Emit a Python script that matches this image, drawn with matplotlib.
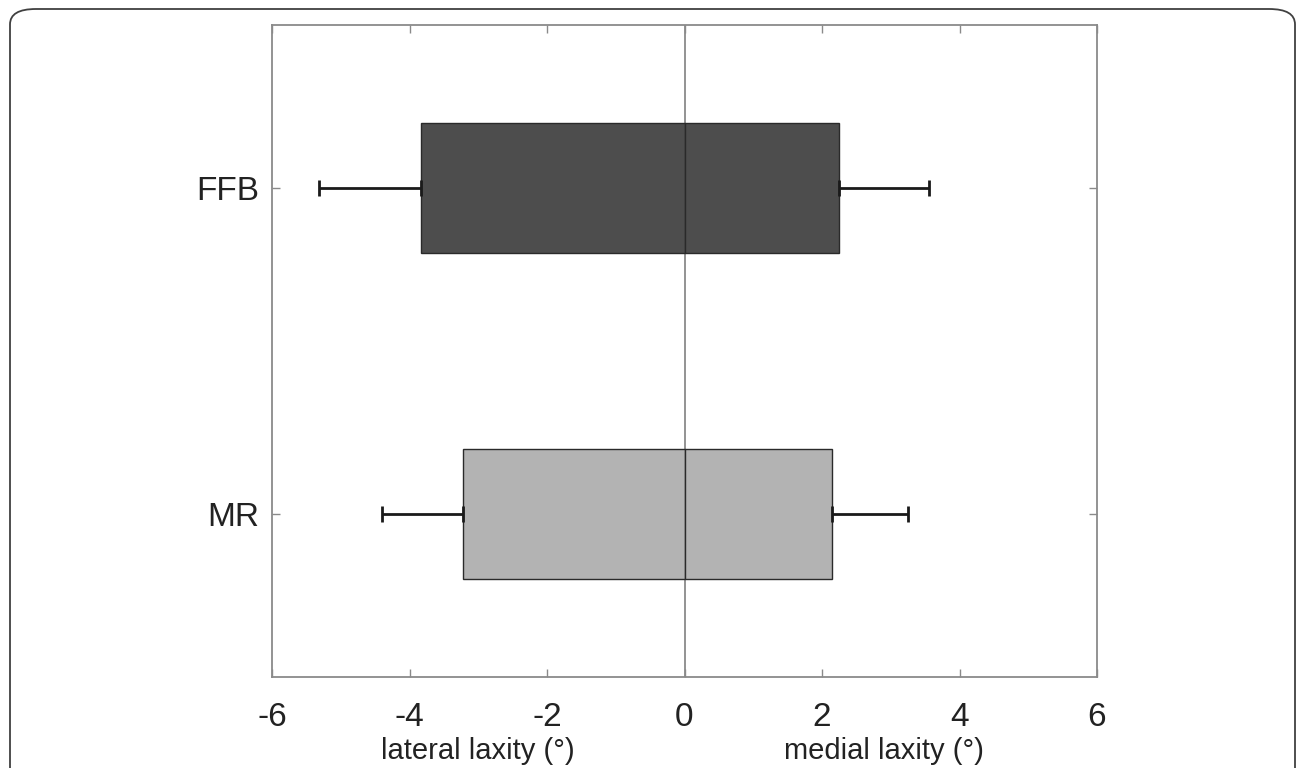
import matplotlib
matplotlib.use("Agg")
import matplotlib.pyplot as plt
from matplotlib.patches import FancyBboxPatch

# data (degrees)
groups = ["FFB", "MR"]
lateral_mean = [-3.83, -3.22]
lateral_sd = [1.48, 1.18]
medial_mean = [2.24, 2.15]
medial_sd = [1.32, 1.10]
bar_colors = ["#4d4d4d", "#b3b3b3"]
x_ticks = [-6, -4, -2, 0, 2, 4, 6]

plt.rcParams['font.family'] = ['Liberation Sans', 'DejaVu Sans']

fig = plt.figure(figsize=(12.96, 7.68), dpi=100)

# rounded frame around the figure
frame = FancyBboxPatch((10 / 1296, -0.1), 1285 / 1296, 0.1 + (768 - 9) / 768,
                       boxstyle="round,pad=0,rounding_size=0.02",
                       transform=fig.transFigure, fill=False,
                       edgecolor="#404040", linewidth=1.3, clip_on=False)
fig.patches.append(frame)

ax = fig.add_axes([272 / 1296, 1 - 677 / 768, 825 / 1296, 652 / 768])

ypos = [1, 2]
axis_grey = "#8a8a8a"

# zero line behind bars
ax.axvline(0, color=axis_grey, linewidth=1.3, zorder=1)

for y, lm, ls, mm, ms, c in zip(ypos, lateral_mean, lateral_sd, medial_mean, medial_sd, bar_colors):
    ax.barh(y, lm, height=0.4, color=c, edgecolor="#2a2a2a", linewidth=1.0, zorder=2)
    ax.barh(y, mm, height=0.4, color=c, edgecolor="#2a2a2a", linewidth=1.0, zorder=2)
    ax.errorbar(lm, y, xerr=[[ls], [0]], fmt="none", ecolor="#1a1a1a",
                elinewidth=2.0, capsize=6, capthick=2.0, zorder=3)
    ax.errorbar(mm, y, xerr=[[0], [ms]], fmt="none", ecolor="#1a1a1a",
                elinewidth=2.0, capsize=6, capthick=2.0, zorder=3)

ax.set_xlim(-6, 6)
ax.set_ylim(2.5, 0.5)
ax.set_xticks(x_ticks)
ax.set_xticklabels([str(t) for t in x_ticks])
ax.set_yticks(ypos)
ax.set_yticklabels(groups)

for s in ax.spines.values():
    s.set_color(axis_grey)
    s.set_linewidth(1.3)

ax.tick_params(direction="in", length=6, width=1.0, color=axis_grey,
               top=True, right=True, labelsize=24, labelcolor="#222222")
ax.tick_params(axis="x", pad=18)
ax.tick_params(axis="y", pad=9)

fig.text(478 / 1296, 1 - 751 / 768, "lateral laxity (°)", ha="center", va="center",
         fontsize=21, color="#222222")
fig.text(884 / 1296, 1 - 751 / 768, "medial laxity (°)", ha="center", va="center",
         fontsize=21, color="#222222")

fig.savefig("out.png", dpi=100)
